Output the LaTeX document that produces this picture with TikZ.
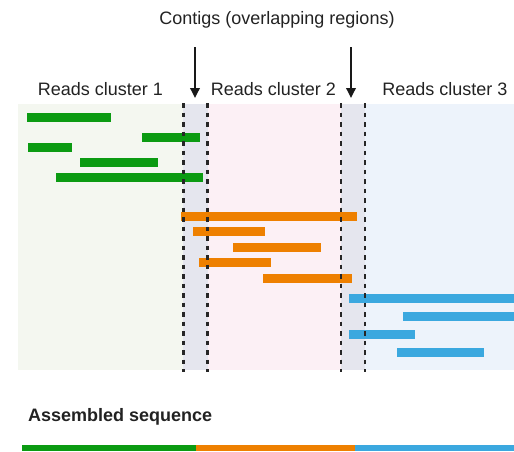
\documentclass[tikz,border=0pt]{standalone}
\usepackage{fontspec}
\setmainfont{Liberation Sans}
\usetikzlibrary{arrows.meta}
\definecolor{textgrey}{HTML}{222222}
\definecolor{readgreen}{HTML}{0B9B12}
\definecolor{readorange}{HTML}{EE8000}
\definecolor{readblue}{HTML}{3BA8DF}
\definecolor{bgone}{HTML}{F4F7F0}
\definecolor{bgtwo}{HTML}{FCF0F5}
\definecolor{bgthree}{HTML}{EDF3FB}
\definecolor{bgcontig}{HTML}{E5E6EE}
\tikzstyle{title} = [font=\fontsize{18}{21}\selectfont, text=textgrey, inner sep=0pt, anchor=base]
\tikzstyle{contig} = [line width=2.8pt, dash pattern=on 4.5pt off 5pt, color=black!85]
\tikzstyle{arrow} = [line width=1.8pt, color=black!90, -{Triangle[length=10pt,width=9.5pt]}]

\begin{document}
\begin{tikzpicture}[x=1pt,y=-1pt]
        \useasboundingbox (0,0) rectangle (514,451);
        % background of the clusters
        \fill[bgone] (18,104) rectangle (183,370);
        \fill[bgcontig] (183,104) rectangle (208,370);
        \fill[bgtwo] (208,104) rectangle (341,370);
        \fill[bgcontig] (341,104) rectangle (365,370);
        \fill[bgthree] (365,104) rectangle (514,370);
        % reads
        \foreach \xa/\xb/\yc in {27/111/117.5, 142/200/137.5, 28/72/147.5, 80/158/162.5, 56/203/177.5}
            \fill[readgreen] (\xa,\yc-4.5) rectangle (\xb,\yc+4.5);
        \foreach \xa/\xb/\yc in {181/357/216, 193/265/231.5, 233/321/247.5, 199/271/262.5, 263/352/278}
            \fill[readorange] (\xa,\yc-4.5) rectangle (\xb,\yc+4.5);
        \foreach \xa/\xb/\yc in {349/514/298.5, 403/514/316.5, 349/415/334, 397/484/352}
            \fill[readblue] (\xa,\yc-4.5) rectangle (\xb,\yc+4.5);
        % contig borders
        \foreach \xc in {183.3, 207.6, 341, 365}
            \draw[contig] (\xc,103) -- (\xc,372);
        % labels
        \node (header) [title] at (277,24) {Contigs (overlapping regions)};
        \node (cluster1) [title] at (100.5,95) {Reads cluster 1};
        \node (cluster2) [title] at (273.5,95) {Reads cluster 2};
        \node (cluster3) [title] at (445,95) {Reads cluster 3};
        \node (assembled) [title, anchor=base west, font=\fontsize{18}{21}\selectfont\bfseries] at (28,421) {Assembled sequence};
        \coordinate (leftstart) at (195,47);
        \coordinate (lefttip) at (195,98);
        \coordinate (rightstart) at (351,47);
        \coordinate (righttip) at (351,98);
        \draw [arrow] (leftstart) -- (lefttip);
        \draw [arrow] (rightstart) -- (righttip);
        % assembled sequence
        \fill[readgreen] (22,445) rectangle (196,451);
        \fill[readorange] (196,445) rectangle (355,451);
        \fill[readblue] (355,445) rectangle (514,451);
    \end{tikzpicture}
\end{document}
